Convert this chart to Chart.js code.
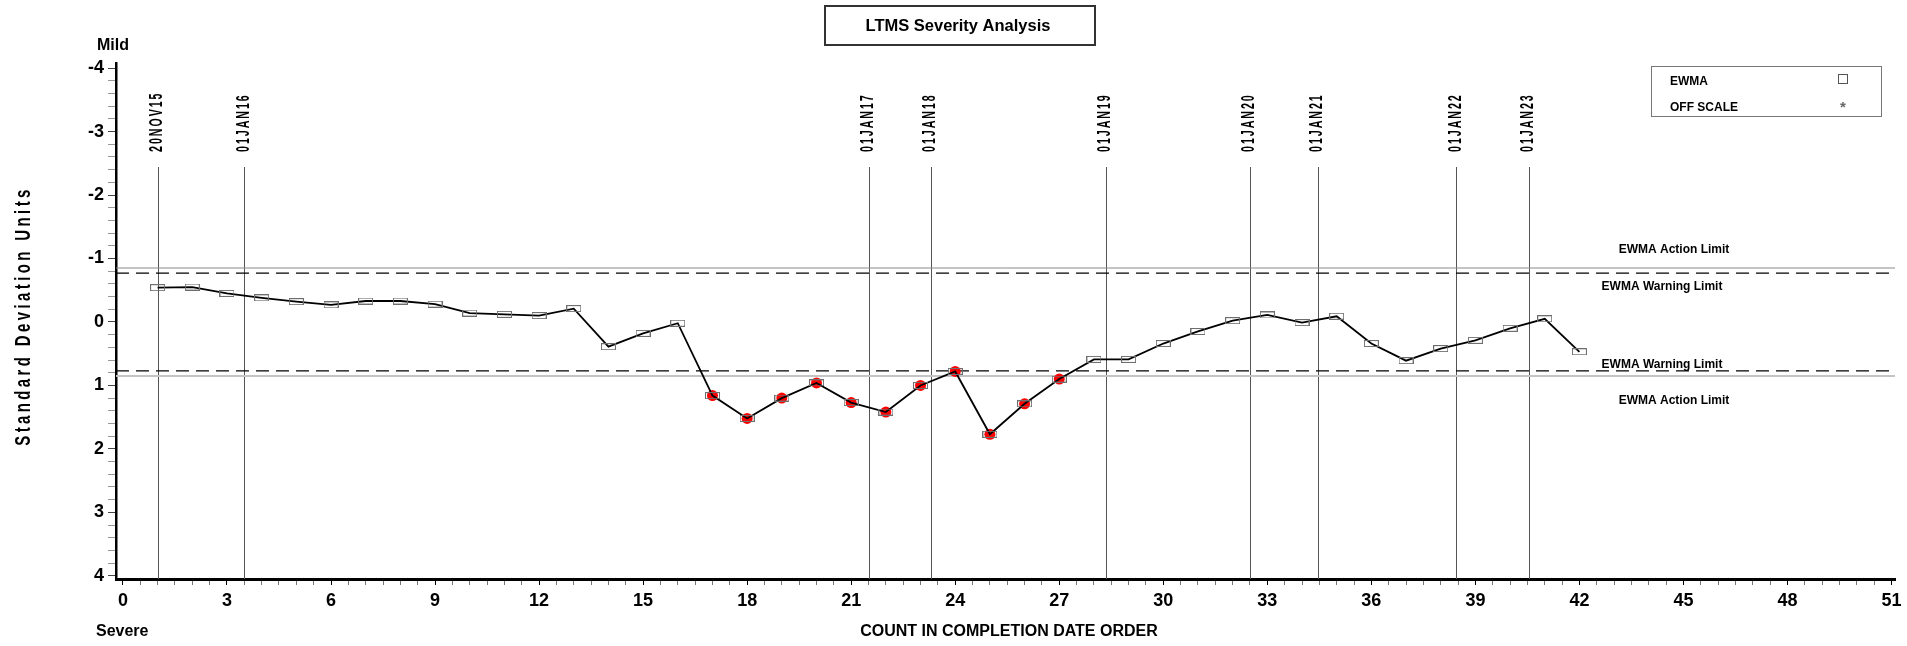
<!DOCTYPE html>
<html>
<head>
<meta charset="utf-8">
<title>LTMS Severity Analysis</title>
<script src="https://cdn.jsdelivr.net/npm/chart.js@4.4.1/dist/chart.umd.min.js"></script>
<style>
    html, body { margin: 0; padding: 0; background: #fff; }
    #wrap { width: 1907px; height: 646px; }
</style>
</head>
<body>
<div id="wrap"><canvas id="ltmsChart" width="1907" height="646"></canvas></div>
<script>
// Count in completion date order and the EWMA value (standard deviation units)
const counts = [1, 2, 3, 4, 5, 6, 7, 8, 9, 10, 11, 12, 13, 14, 15, 16, 17, 18, 19, 20, 21,
    22, 23, 24, 25, 26, 27, 28, 29, 30, 31, 32, 33, 34, 35, 36, 37, 38, 39, 40, 41, 42];
const ewma = [-0.54, -0.55, -0.45, -0.38, -0.32, -0.27, -0.33, -0.33, -0.28, -0.14, -0.12,
    -0.10, -0.21, 0.39, 0.18, 0.02, 1.16, 1.52, 1.20, 0.96, 1.27, 1.42, 1.00, 0.78, 1.77,
    1.29, 0.90, 0.59, 0.59, 0.34, 0.15, -0.02, -0.11, 0.01, -0.09, 0.34, 0.61, 0.42, 0.29,
    0.10, -0.05, 0.47];
// counts marked with a red dot
const flaggedCounts = [17, 18, 19, 20, 21, 22, 23, 24, 25, 26, 27];

const actionLimits = [-0.85, 0.85];
const warningLimits = [-0.77, 0.77];

// calendar markers (position on the count axis)
const dateMarkers = [1, 3.5, 21.5, 23.3, 28.35, 32.5, 34.45, 38.45, 40.55];
const dateLabels = ['20NOV15', '01JAN16', '01JAN17', '01JAN18', '01JAN19', '01JAN20', '01JAN21', '01JAN22', '01JAN23'];

const xTickLabels = [0, 3, 6, 9, 12, 15, 18, 21, 24, 27, 30, 33, 36, 39, 42, 45, 48, 51];
const yTickLabels = [-4, -3, -2, -1, 0, 1, 2, 3, 4];

const FONT = '"Liberation Sans", Arial, sans-serif';

// hollow rectangle used as the EWMA marker
const rectMarker = document.createElement('canvas');
rectMarker.width = 15;
rectMarker.height = 7;
const mctx = rectMarker.getContext('2d');
mctx.strokeStyle = '#6e6e6e';
mctx.lineWidth = 1;
mctx.strokeRect(0.5, 0.5, 14, 6);

const ewmaPoints = counts.map((c, i) => ({ x: c, y: ewma[i] }));
const flaggedPoints = flaggedCounts.map(c => ({ x: c, y: ewma[counts.indexOf(c)] }));

function buildTicks(from, to, step) {
    const out = [];
    const n = Math.round((to - from) / step);
    for (let i = 0; i <= n; i++) out.push({ value: Math.round((from + i * step) * 100) / 100 });
    return out;
}

// vertical, condensed text (reads bottom to top)
function condensedUp(ctx, text, x, y, squeeze, spacing, align) {
    ctx.save();
    ctx.translate(x, y);
    ctx.rotate(-Math.PI / 2);
    ctx.scale(squeeze, 1);
    ctx.textAlign = align;
    ctx.textBaseline = 'middle';
    ctx.letterSpacing = spacing;
    ctx.fillText(text, 0, 0);
    ctx.restore();
}

const decor = {
    id: 'ltmsDecor',
    beforeDatasetsDraw(chart) {
        const { ctx, chartArea: area, scales: { x, y } } = chart;
        ctx.save();

        // calendar lines
        ctx.strokeStyle = '#555';
        ctx.lineWidth = 1;
        dateMarkers.forEach(v => {
            const px = Math.round(x.getPixelForValue(v)) + 0.5;
            ctx.beginPath();
            ctx.moveTo(px, 167);
            ctx.lineTo(px, area.bottom);
            ctx.stroke();
        });

        // action limits (solid)
        actionLimits.forEach((v, i) => {
            const py = y.getPixelForValue(v);
            ctx.strokeStyle = i === 0 ? '#8a8a8a' : '#c4c4c4';
            ctx.lineWidth = i === 0 ? 1 : 2;
            ctx.beginPath();
            ctx.moveTo(area.left, py);
            ctx.lineTo(area.right, py);
            ctx.stroke();
        });

        // warning limits (dashed)
        ctx.strokeStyle = '#000';
        ctx.lineWidth = 1.2;
        ctx.setLineDash([13, 7]);
        warningLimits.forEach(v => {
            const py = y.getPixelForValue(v);
            ctx.beginPath();
            ctx.moveTo(area.left, py);
            ctx.lineTo(area.right, py);
            ctx.stroke();
        });
        ctx.restore();
    },
    afterDraw(chart) {
        const { ctx, scales: { x, y } } = chart;
        ctx.save();
        ctx.fillStyle = '#000';

        // title box
        ctx.strokeStyle = '#333';
        ctx.lineWidth = 2;
        ctx.strokeRect(825, 6, 270, 39);
        ctx.font = 'bold 16.5px ' + FONT;
        ctx.textAlign = 'center';
        ctx.textBaseline = 'middle';
        ctx.fillText('LTMS Severity Analysis', 958, 26);

        // legend box
        ctx.strokeStyle = '#777';
        ctx.lineWidth = 1;
        ctx.strokeRect(1651.5, 66.5, 230, 50);
        ctx.font = 'bold 12px ' + FONT;
        ctx.textAlign = 'left';
        ctx.fillText('EWMA', 1670, 82);
        ctx.fillText('OFF SCALE', 1670, 108);
        ctx.strokeStyle = '#555';
        ctx.strokeRect(1838.5, 74.5, 9, 9);
        ctx.fillStyle = '#666';
        ctx.font = 'bold 15px ' + FONT;
        ctx.textAlign = 'center';
        ctx.fillText('*', 1843, 108);
        ctx.fillStyle = '#000';

        // limit captions
        ctx.font = 'bold 12px ' + FONT;
        ctx.fillText('EWMA Action Limit', 1674, y.getPixelForValue(actionLimits[0]) - 18);
        ctx.fillText('EWMA Warning Limit', 1662, y.getPixelForValue(warningLimits[0]) + 14);
        ctx.fillText('EWMA Warning Limit', 1662, y.getPixelForValue(warningLimits[1]) - 6);
        ctx.fillText('EWMA Action Limit', 1674, y.getPixelForValue(actionLimits[1]) + 25);

        // severity ends and axis titles
        ctx.font = 'bold 16px ' + FONT;
        ctx.textAlign = 'left';
        ctx.fillText('Mild', 97, 46);
        ctx.fillText('Severe', 96, 632);
        ctx.textAlign = 'center';
        ctx.fillText('COUNT IN COMPLETION DATE ORDER', 1009, 632);

        ctx.font = '600 22px ' + FONT;
        condensedUp(ctx, 'Standard Deviation Units', 24, 316, 0.68, '5px', 'center');

        // calendar labels
        ctx.font = 'bold 19px ' + FONT;
        dateMarkers.forEach((v, i) => {
            condensedUp(ctx, dateLabels[i], x.getPixelForValue(v) - 1, 152, 0.56, '3.5px', 'left');
        });
        ctx.restore();
    }
};

const chart = new Chart(document.getElementById('ltmsChart'), {
    type: 'scatter',
    data: {
        datasets: [{
            label: 'EWMA',
            data: ewmaPoints,
            showLine: true,
            borderColor: '#000',
            borderWidth: 1.8,
            pointStyle: rectMarker,
            pointRadius: 4,
            order: 1
        }, {
            label: 'Flagged',
            data: flaggedPoints,
            showLine: false,
            backgroundColor: '#ff0000',
            borderColor: '#ff0000',
            borderWidth: 0,
            pointRadius: 5.5,
            order: 2
        }]
    },
    options: {
        responsive: false,
        animation: false,
        devicePixelRatio: 1,
        layout: { padding: { top: 63, right: 12, left: 0, bottom: 0 } },
        plugins: {
            legend: { display: false },
            tooltip: { enabled: false },
            title: { display: false }
        },
        scales: {
            x: {
                type: 'linear',
                min: -0.2,
                max: 51.1,
                afterBuildTicks: scale => { scale.ticks = buildTicks(0, 51, 0.5); },
                afterFit: scale => { scale.height = 67; },
                border: { display: true, color: '#000', width: 3 },
                grid: {
                    drawOnChartArea: false,
                    tickLength: 6,
                    tickColor: c => xTickLabels.includes(c.tick.value) ? '#000' : '#777'
                },
                ticks: {
                    autoSkip: false,
                    maxRotation: 0,
                    padding: 5,
                    color: '#000',
                    font: { family: FONT, size: 18, weight: 'bold' },
                    callback: v => xTickLabels.includes(v) ? String(v) : ''
                }
            },
            y: {
                type: 'linear',
                reverse: true,
                min: -4.08,
                max: 4.05,
                afterBuildTicks: scale => { scale.ticks = buildTicks(-4, 4, 0.2); },
                afterFit: scale => { scale.width = 116; },
                border: { display: true, color: '#000', width: 2.5 },
                grid: {
                    drawOnChartArea: false,
                    tickLength: 8,
                    tickColor: c => yTickLabels.includes(c.tick.value) ? '#444' : '#999'
                },
                ticks: {
                    autoSkip: false,
                    padding: 4,
                    color: '#000',
                    font: { family: FONT, size: 18, weight: 'bold' },
                    callback: v => yTickLabels.includes(v) ? String(v) : ''
                }
            }
        }
    },
    plugins: [decor]
});
</script>
</body>
</html>
